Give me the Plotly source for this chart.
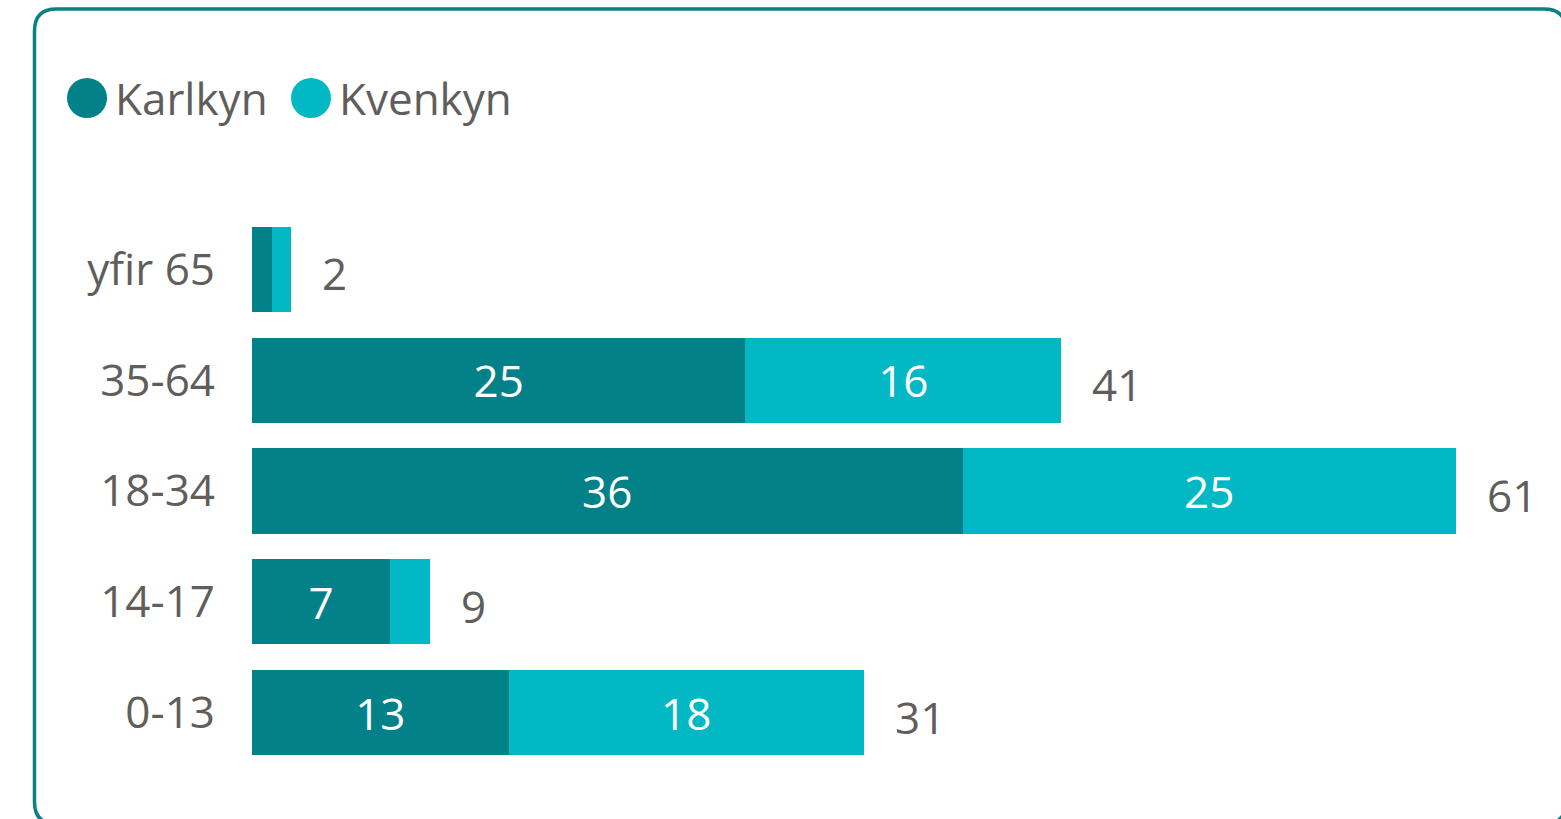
import plotly.graph_objects as go

# age groups, bottom to top
age_groups = ["0-13", "14-17", "18-34", "35-64", "yfir 65"]
karlkyn = [13, 7, 36, 25, 1]
kvenkyn = [18, 2, 25, 16, 1]
series_names = ["Karlkyn", "Kvenkyn"]

totals = [k + q for k, q in zip(karlkyn, kvenkyn)]

DARK = "#038189"
LIGHT = "#02B8C5"
GREY = "#605E5C"
FONT = "Open Sans"
FS = 44

W, H = 1561, 819
ML, MR, MT, MB = 252, 0, 214, 51
PW, PH = W - ML - MR, H - MT - MB


def px(x):
    return (x - ML) / PW


def py(y):
    return 1 - (y - MT) / PH


def inside_labels(vals):
    # segments too thin to hold a label are left blank
    return [str(v) if v >= 3 else "" for v in vals]


fig = go.Figure()
for name, vals, col in [(series_names[0], karlkyn, DARK), (series_names[1], kvenkyn, LIGHT)]:
    fig.add_trace(go.Bar(
        y=age_groups, x=vals, name=name, orientation="h",
        marker=dict(color=col, line=dict(width=0)),
        text=inside_labels(vals), textposition="inside",
        insidetextanchor="middle", textangle=0, constraintext="none",
        textfont=dict(color="white", size=FS, family=FONT),
        hoverinfo="skip", showlegend=False,
    ))

annotations = []
for cat, tot in zip(age_groups, totals):
    annotations.append(dict(
        x=tot, y=cat, xref="x", yref="y", text=str(tot), showarrow=False,
        xanchor="left", yanchor="middle", xshift=29, yshift=-4,
        font=dict(size=FS, color=GREY, family=FONT),
    ))

# legend drawn by hand so the swatches can be large circles
legend_x = [87, 311]
shapes = []
for name, col, lx in zip(series_names, [DARK, LIGHT], legend_x):
    shapes.append(dict(
        type="circle", xref="paper", yref="paper",
        xsizemode="pixel", ysizemode="pixel",
        xanchor=px(lx), yanchor=py(98),
        x0=-20, x1=20, y0=-20, y1=20,
        fillcolor=col, line=dict(width=0),
    ))
    annotations.append(dict(
        x=px(lx + 26), y=py(98), xref="paper", yref="paper", text=name,
        showarrow=False, xanchor="left", yanchor="middle",
        font=dict(size=FS, color=GREY, family=FONT),
    ))

# rounded frame around the visual (runs off the right and bottom edges)
l, t, r, b, rad = 34.5, 9, 1566, 824, 22
path = (
    f"M {px(l + rad)} {py(t)} L {px(r - rad)} {py(t)} Q {px(r)} {py(t)} {px(r)} {py(t + rad)} "
    f"L {px(r)} {py(b - rad)} Q {px(r)} {py(b)} {px(r - rad)} {py(b)} "
    f"L {px(l + rad)} {py(b)} Q {px(l)} {py(b)} {px(l)} {py(b - rad)} "
    f"L {px(l)} {py(t + rad)} Q {px(l)} {py(t)} {px(l + rad)} {py(t)} Z"
)
shapes.append(dict(type="path", xref="paper", yref="paper", path=path,
                   line=dict(color="#0A8087", width=3.5), fillcolor="rgba(0,0,0,0)"))

fig.update_layout(
    width=W, height=H, barmode="stack", bargap=0.23,
    margin=dict(l=ML, r=MR, t=MT, b=MB, autoexpand=False),
    paper_bgcolor="white", plot_bgcolor="white",
    font=dict(family=FONT, color=GREY, size=FS),
    xaxis=dict(range=[0, PW / ((1456 - 252) / 61)], visible=False, fixedrange=True),
    yaxis=dict(categoryorder="array", categoryarray=age_groups, range=[-0.5, 4.5],
               showgrid=False, zeroline=False, showline=False, ticks="",
               ticklabelstandoff=36, tickfont=dict(size=FS, color=GREY, family=FONT),
               fixedrange=True),
    annotations=annotations, shapes=shapes, hovermode=False, showlegend=False,
)

# drop the browser's default body margin so the figure sits at the page origin
fig.write_html("out.html", config={"displayModeBar": False},
               post_script="document.body.style.margin='0';document.body.style.overflow='hidden';")
